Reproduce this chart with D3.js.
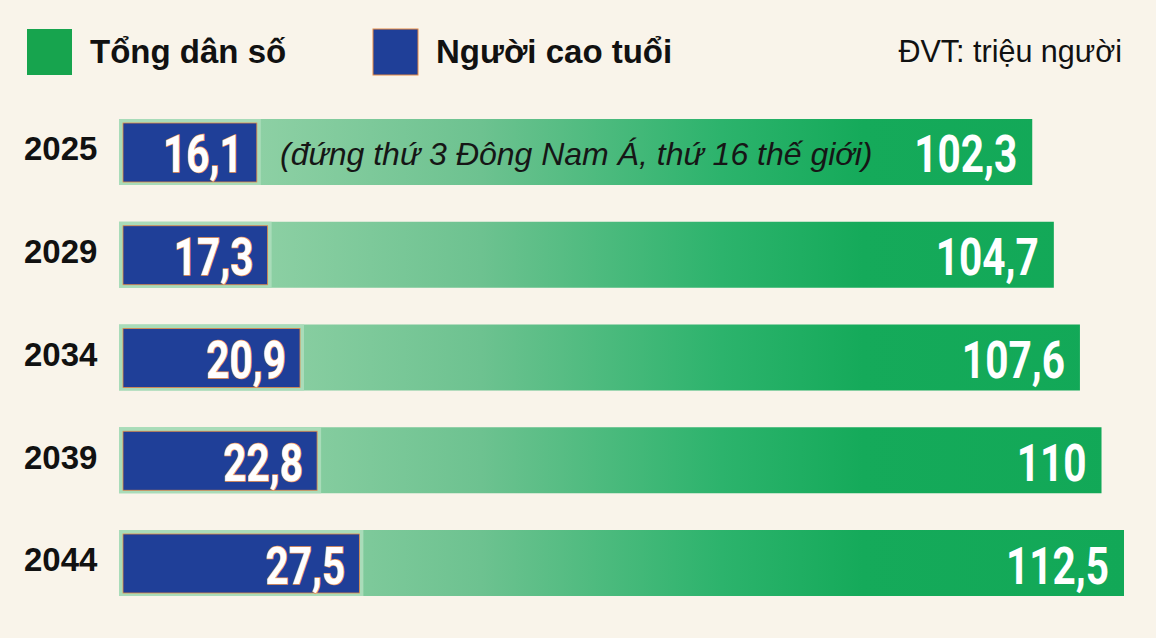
<!DOCTYPE html>
<html>
<head>
<meta charset="utf-8">
<script src="https://cdn.jsdelivr.net/npm/d3@7"></script>
<style>
  html, body { margin: 0; padding: 0; background: #f9f4ea; }
  svg { display: block; }
</style>
</head>
<body>
<svg id="chart"></svg>
<script>
const width = 1156, height = 638;

// Data
const years = ["2025", "2029", "2034", "2039", "2044"];
const totalPop = [102.3, 104.7, 107.6, 110, 112.5];
const elderly = [16.1, 17.3, 20.9, 22.8, 27.5];
const legendLabels = ["Tổng dân số", "Người cao tuổi"];
const unitLabel = "ĐVT: triệu người";
const note2025 = "(đứng thứ 3 Đông Nam Á, thứ 16 thế giới)";

const fmt = v => String(v).replace(".", ",");

const svg = d3.select("#chart")
    .attr("width", width)
    .attr("height", height)
    .attr("viewBox", [0, 0, width, height]);

svg.append("rect").attr("width", width).attr("height", height).attr("fill", "#f9f4ea");

// scales
const barStart = 119;
const xScale = d3.scaleLinear().domain([0, 112.5]).range([112, 1124]);
const yScale = d3.scaleBand().domain(years).range([119, 596]).paddingInner(0.3577).paddingOuter(0);
const bh = yScale.bandwidth();

// gradient for the total population bars
const grad = svg.append("defs").append("linearGradient")
    .attr("id", "greenGrad")
    .attr("gradientUnits", "userSpaceOnUse")
    .attr("x1", barStart).attr("x2", 1124).attr("y1", 0).attr("y2", 0);
[[0, "#9fd7b0"], [0.14, "#8dd0a4"], [0.36, "#6dc290"], [0.6, "#2cb36c"], [0.74, "#15aa5a"], [1, "#12a857"]]
    .forEach(([o, c]) => grad.append("stop").attr("offset", o).attr("stop-color", c));

const rows = years.map((y, i) => ({ year: y, total: totalPop[i], old: elderly[i] }));

const row = svg.append("g").selectAll("g")
    .data(rows)
    .join("g")
    .attr("transform", d => `translate(0,${yScale(d.year)})`);

// total bar
row.append("rect")
    .attr("x", barStart)
    .attr("y", 0)
    .attr("width", d => xScale(d.total) - barStart)
    .attr("height", bh)
    .attr("fill", "url(#greenGrad)");

// pale strip behind elderly bar
row.append("rect")
    .attr("x", barStart)
    .attr("y", 0)
    .attr("width", d => xScale(d.old) + 4 - barStart)
    .attr("height", bh)
    .attr("fill", "#a9dcb9");

// elderly bar
row.append("rect")
    .attr("x", barStart + 4)
    .attr("y", 4)
    .attr("width", d => xScale(d.old) - barStart - 4)
    .attr("height", bh - 7)
    .attr("fill", "#1f3f98")
    .attr("stroke", "#e58a45")
    .attr("stroke-width", 0.8);

// year labels
row.append("text")
    .attr("x", 24)
    .attr("y", bh / 2 + 8.5)
    .attr("font-family", "Liberation Sans, Arial, sans-serif")
    .attr("font-weight", "bold")
    .attr("font-size", 33)
    .attr("fill", "#111")
    .text(d => d.year);

// value labels (squeezed to look condensed)
const valueText = (sel, xFn, withHalo) => sel.append("text")
    .attr("transform", d => `translate(${xFn(d)},${bh / 2 + 20.5}) scale(0.78,1)`)
    .attr("text-anchor", "end")
    .attr("font-family", "Roboto, sans-serif")
    .attr("font-weight", "bold")
    .attr("font-size", 52)
    .attr("fill", "#fff")
    .attr("stroke", withHalo ? "#e8955a" : "none")
    .attr("stroke-width", withHalo ? 1.4 : 0)
    .attr("paint-order", "stroke");

valueText(row, d => xScale(d.old) - 14, true).text(d => fmt(d.old));
valueText(row, d => xScale(d.total) - 15, false).text(d => fmt(d.total));

// note on first bar
row.filter((d, i) => i === 0).append("text")
    .attr("x", 280)
    .attr("y", bh / 2 + 13)
    .attr("font-family", "Liberation Sans, Arial, sans-serif")
    .attr("font-style", "italic")
    .attr("font-size", 32)
    .attr("fill", "#161616")
    .text(note2025);

// legend
const legend = svg.append("g");
const legendItems = [
    { label: legendLabels[0], color: "#17a44e", x: 27, stroke: "none" },
    { label: legendLabels[1], color: "#1f3f98", x: 373, stroke: "#e58a45" }
];
const li = legend.selectAll("g").data(legendItems).join("g")
    .attr("transform", d => `translate(${d.x},29)`);
li.append("rect")
    .attr("width", 45).attr("height", 46)
    .attr("fill", d => d.color)
    .attr("stroke", d => d.stroke)
    .attr("stroke-width", 1);
li.append("text")
    .attr("x", 63)
    .attr("y", 34)
    .attr("font-family", "Liberation Sans, Arial, sans-serif")
    .attr("font-weight", "bold")
    .attr("font-size", 33)
    .attr("fill", "#111")
    .text(d => d.label);

svg.append("text")
    .attr("x", 1122)
    .attr("y", 62)
    .attr("text-anchor", "end")
    .attr("font-family", "Liberation Sans, Arial, sans-serif")
    .attr("font-size", 30.5)
    .attr("fill", "#111")
    .text(unitLabel);
</script>
</body>
</html>
